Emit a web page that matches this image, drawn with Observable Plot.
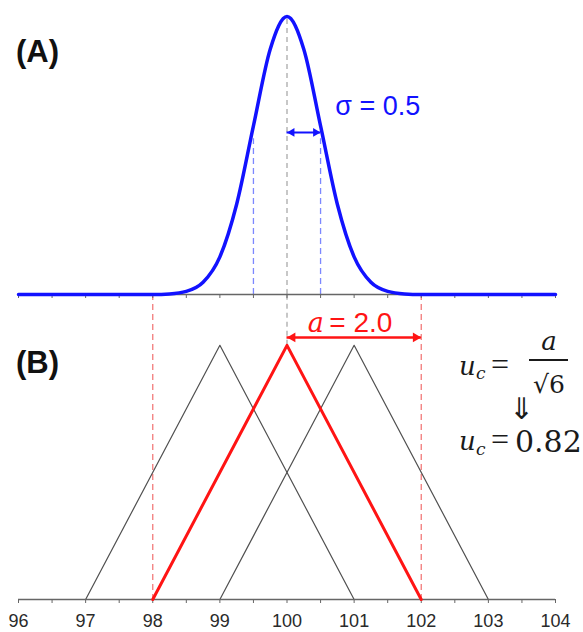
<!DOCTYPE html>
<html><head><meta charset="utf-8">
<script src="https://cdn.jsdelivr.net/npm/d3@7"></script>
<script src="https://cdn.jsdelivr.net/npm/@observablehq/plot@0.6"></script>
<style>
body{margin:0;background:#fff;}
#wrap{position:relative;width:583px;height:632px;overflow:hidden;font-family:"Liberation Sans",Arial,sans-serif;}
#wrap > svg{position:absolute;left:0;overflow:visible;background:transparent;}
</style></head><body><div id="wrap"></div>
<script>
// ---- data ----
const xDomain = [96, 104];
const xTicks = [96, 96.5, 97, 97.5, 98, 98.5, 99, 99.5, 100, 100.5, 101, 101.5, 102, 102.5, 103, 103.5, 104];
const tickLabels = [96, 97, 98, 99, 100, 101, 102, 103, 104];
const mean = 100;
const sigma = 0.5;
const halfWidth = 2.0;
// Gaussian curve (A), relative height
const gaussX = [96, 97, 98, 98.25, 98.5, 98.75, 99, 99.25, 99.5, 99.75, 100, 100.25, 100.5, 100.75, 101, 101.25, 101.5, 101.75, 102, 103, 104];
const gaussY = [0, 0, 0.0003, 0.0022, 0.0111, 0.0439, 0.1353, 0.3247, 0.6065, 0.8825, 1, 0.8825, 0.6065, 0.3247, 0.1353, 0.0439, 0.0111, 0.0022, 0.0003, 0, 0];
// Triangular distributions (B)
const triNames = ["left", "center", "right"];
const triLeft = [97, 98, 99];
const triPeak = [99, 100, 101];
const triRight = [101, 102, 103];
const triHeight = 1;
const rangeEnds = [98, 102];
const ucValue = "0.82";

// ---- build tables ----
const gauss = gaussX.map((x, i) => ({x, y: gaussY[i]}));
const tris = triNames.flatMap((name, i) => [
  {name, x: triLeft[i], y: 0},
  {name, x: triPeak[i], y: triHeight},
  {name, x: triRight[i], y: 0}
]);
const blueC = "#1212ff";
const redC = "#ff1414";

function arrowMarks(x1, x2, y, color, sw, r) {
  const off = 2 * Math.sqrt(Math.PI * r * r / (Math.sqrt(3) * 3));
  return [
    Plot.ruleY([{y, x1, x2}], {y: "y", x1: "x1", x2: "x2", stroke: color, strokeWidth: sw}),
    Plot.dot([{x: x1, y}], {x: "x", y: "y", symbol: "triangle", r, rotate: -90, fill: color, stroke: "none", dx: off}),
    Plot.dot([{x: x2, y}], {x: "x", y: "y", symbol: "triangle", r, rotate: 90, fill: color, stroke: "none", dx: -off})
  ];
}

const wrap = document.getElementById("wrap");

// ---- panel B ----
const plotB = Plot.plot({
  width: 583, height: 338,
  marginLeft: 18, marginRight: 28, marginTop: 0, marginBottom: 33,
  x: {domain: xDomain},
  y: {domain: [0, 1.2], axis: null},
  style: {fontFamily: "'Liberation Sans', Arial, sans-serif", color: "#333", background: "transparent", overflow: "visible"},
  marks: [
    Plot.ruleX(rangeEnds, {stroke: "#f27b7b", strokeWidth: 1.3, strokeDasharray: "6,4"}),
    Plot.ruleX([mean], {y1: triHeight, y2: 1.2, stroke: "#aaaaaa", strokeWidth: 1.3, strokeDasharray: "5,4"}),
    Plot.line(tris.filter(d => d.name !== "center"), {x: "x", y: "y", z: "name", stroke: "#505050", strokeWidth: 1.2}),
    Plot.ruleY([0], {stroke: "#666", strokeWidth: 1.3}),
    Plot.axisX({ticks: xTicks, tickSize: 4, tickFormat: () => "", label: null, stroke: "#666"}),
    Plot.text(tickLabels, {x: d => d, y: 0, text: d => String(d), lineAnchor: "top", dy: 15, fontSize: 18, fill: "#2a2a2a"}),
    Plot.line(tris.filter(d => d.name === "center"), {x: "x", y: "y", stroke: redC, strokeWidth: 3}),
    ...arrowMarks(mean, mean + halfWidth, 1.031, redC, 2.5, 3.6),
    Plot.text(["a"], {x: 100.43, y: 1.088, text: d => d, fontFamily: "'DejaVu Serif', serif", fontStyle: "italic", fontSize: 27, fill: redC}),
    Plot.text([`= ${halfWidth.toFixed(1)}`], {x: 100.63, y: 1.088, text: d => d, textAnchor: "start", fontSize: 28, fill: redC})
  ]
});
plotB.style.top = "294px";
wrap.appendChild(plotB);

// ---- panel A ----
const plotA = Plot.plot({
  width: 583, height: 300,
  marginLeft: 18, marginRight: 28, marginTop: 16, marginBottom: 6,
  x: {domain: xDomain},
  y: {domain: [0, 1], axis: null},
  style: {fontFamily: "'Liberation Sans', Arial, sans-serif", color: "#333", background: "transparent", overflow: "visible"},
  marks: [
    Plot.ruleX([mean], {y1: 0, y2: 1, stroke: "#aaaaaa", strokeWidth: 1.3, strokeDasharray: "5,4"}),
    Plot.ruleX([mean - sigma, mean + sigma], {y1: 0, y2: 0.56, stroke: "#7c88ff", strokeWidth: 1.3, strokeDasharray: "6,4"}),
    Plot.ruleY([0], {stroke: "#666", strokeWidth: 1.3}),
    Plot.axisX({ticks: xTicks, tickSize: 4, tickFormat: () => "", label: null, stroke: "#666"}),
    Plot.line(gauss, {x: "x", y: "y", stroke: blueC, strokeWidth: 3.5, curve: "monotone-x"}),
    ...arrowMarks(mean, mean + sigma, 0.583, blueC, 2, 3.2),
    Plot.text([`σ = ${sigma}`], {x: 100.72, y: 0.676, text: d => d, textAnchor: "start", fontSize: 27, fill: blueC})
  ]
});
plotA.style.top = "0px";
wrap.appendChild(plotA);

// ---- labels and formula overlay ----
const ov = d3.select(wrap).append("svg")
  .attr("width", 583).attr("height", 632)
  .style("position", "absolute").style("top", "0px").style("left", "0px");
ov.append("text").attr("x", 16).attr("y", 62).attr("font-family", "'Liberation Sans', Arial, sans-serif")
  .attr("font-weight", "bold").attr("font-size", 31).attr("fill", "#111").text("(A)");
ov.append("text").attr("x", 16).attr("y", 373).attr("font-family", "'Liberation Sans', Arial, sans-serif")
  .attr("font-weight", "bold").attr("font-size", 31).attr("fill", "#111").text("(B)");
const serif = "'DejaVu Serif', serif";
const fc = "#1a1a1a";
function t(x, y, s, size, opts = {}) {
  const e = ov.append("text").attr("x", x).attr("y", y).attr("font-family", opts.family || serif)
    .attr("font-size", size).attr("fill", fc).text(s);
  if (opts.italic) e.attr("font-style", "italic");
  if (opts.anchor) e.attr("text-anchor", opts.anchor);
  return e;
}
// line 1: u_c = a / sqrt(6)
t(459, 375, "u", 26, {italic: true});
t(476, 379, "c", 17, {italic: true});
t(491, 375, "=", 32, {family: "'Liberation Serif', serif"});
t(549, 350, "a", 26, {italic: true, anchor: "middle"});
ov.append("line").attr("x1", 529).attr("x2", 568).attr("y1", 360).attr("y2", 360).attr("stroke", fc).attr("stroke-width", 1.8);
t(549, 393, "√6", 25, {anchor: "middle"});
t(521.5, 419, "⇓", 30, {anchor: "middle", family: "'DejaVu Sans', sans-serif"});
// line 2: u_c = 0.82
t(459, 450, "u", 26, {italic: true});
t(476, 455, "c", 17, {italic: true});
t(491, 450, "=", 32, {family: "'Liberation Serif', serif"});
t(515, 452, ucValue, 30);
</script></body></html>
